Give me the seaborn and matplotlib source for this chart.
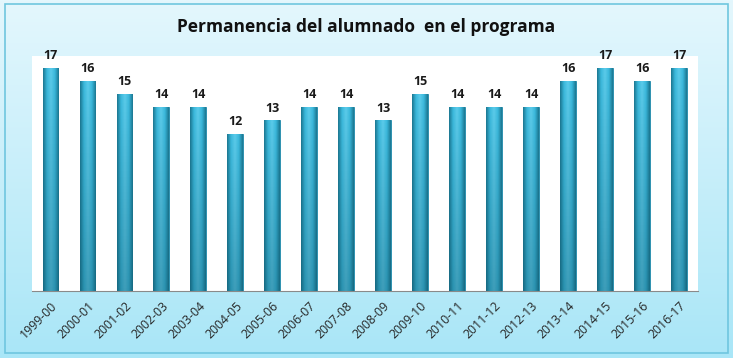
import numpy as np
import pandas as pd
import matplotlib.pyplot as plt
import seaborn as sns
from matplotlib.patches import Rectangle
from matplotlib.colors import LinearSegmentedColormap

cursos = ["1999-00", "2000-01", "2001-02", "2002-03", "2003-04", "2004-05",
          "2005-06", "2006-07", "2007-08", "2008-09", "2009-10", "2010-11",
          "2011-12", "2012-13", "2013-14", "2014-15", "2015-16", "2016-17"]
valores = [17, 16, 15, 14, 14, 12, 13, 14, 14, 13, 15, 14, 14, 14, 16, 17, 16, 17]

df = pd.DataFrame({"curso": cursos, "valor": valores})

sns.set_style("white")
plt.rcParams['font.family'] = ['Open Sans', 'DejaVu Sans']

fig = plt.figure(figsize=(7.33, 3.58), dpi=100)

# light cyan gradient background
bg = fig.add_axes([0, 0, 1, 1], zorder=-10)
grad = np.linspace(0, 1, 256).reshape(-1, 1)
cmap = LinearSegmentedColormap.from_list("bg", ["#e4f7fd", "#a9e6f7"])
bg.imshow(grad, aspect="auto", cmap=cmap, extent=[0, 1, 0, 1], origin="upper")
bg.add_patch(Rectangle((0.007, 0.015), 0.986, 0.975, fill=False,
                       edgecolor="#6fc6df", linewidth=1.2))
bg.set_xlim(0, 1)
bg.set_ylim(0, 1)
bg.axis("off")

ax = fig.add_axes([0.0437, 0.187, 0.908, 0.656])
sns.barplot(data=df, x="curso", y="valor", color="#34b2d6", width=0.43,
            edgecolor="#1f86a6", linewidth=0.6, saturation=1, ax=ax)

ax.set_ylim(0, 17.9)
ax.set_xlim(-0.5, len(cursos) - 0.5)

# cylinder-like shading clipped to each bar
bar_cmap = LinearSegmentedColormap.from_list(
    "bar", ["#1c7892", "#3bb9dc", "#5ccbea", "#3bb9dc", "#1c7892"])
xs = np.linspace(0, 1, 64)
shade = np.tile(xs, (64, 1))
for p in ax.patches:
    x0, y0 = p.get_x(), p.get_y()
    w, h = p.get_width(), p.get_height()
    im = ax.imshow(shade, cmap=bar_cmap, aspect="auto",
                   extent=[x0, x0 + w, y0, y0 + h], zorder=p.get_zorder() + 0.1)
    im.set_clip_path(p)
    # darker towards the base
    vgrad = np.linspace(0, 1, 64).reshape(-1, 1)
    dark = LinearSegmentedColormap.from_list(
        "dk", [(0.05, 0.3, 0.38, 0.0), (0.05, 0.3, 0.38, 0.35)])
    im2 = ax.imshow(vgrad, cmap=dark, aspect="auto", origin="upper",
                    extent=[x0, x0 + w, y0, y0 + h], zorder=p.get_zorder() + 0.2)
    im2.set_clip_path(p)
ax.set_xlim(-0.5, len(cursos) - 0.5)
ax.set_ylim(0, 17.9)

for i, v in enumerate(valores):
    ax.text(i, v + 0.45, str(v), ha="center", va="bottom",
            fontsize=9, fontweight="bold", color="#1a1a1a")

ax.set_xlabel("")
ax.set_ylabel("")
ax.set_yticks([])
for s in ["top", "right", "left"]:
    ax.spines[s].set_visible(False)
ax.spines["bottom"].set_color("#8a8a8a")
ax.set_xticks(np.arange(len(cursos)))
ax.set_xticklabels(cursos, rotation=45, ha="right", rotation_mode="anchor",
                   fontsize=8.8)
ax.tick_params(axis="x", which="major", length=0, pad=6)
ax.set_xticks(np.arange(len(cursos) + 1) - 0.5, minor=True)
ax.tick_params(axis="x", which="minor", length=5, color="#8a8a8a", width=0.8)
ax.set_facecolor("white")

fig.text(0.5, 0.925, "Permanencia del alumnado  en el programa", ha="center",
         va="center", fontsize=12.5, fontweight="bold", color="#111111")

fig.savefig("out.png", dpi=100)
